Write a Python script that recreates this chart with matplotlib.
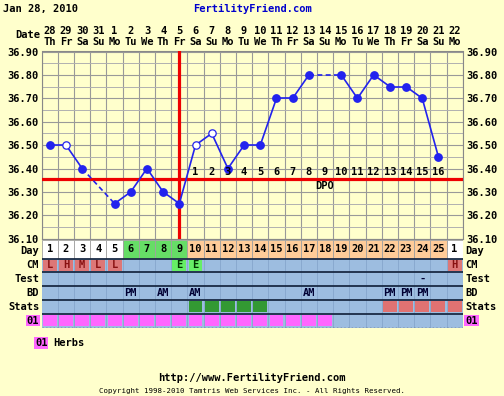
import numpy as np
import matplotlib.pyplot as plt
from matplotlib.patches import Rectangle

W, H = 504, 396
BG = '#ffffcc'
FONT = 'DejaVu Sans Mono'

# --- chart data ---
dates = ['28', '29', '30', '31', '1', '2', '3', '4', '5', '6', '7', '8', '9',
         '10', '11', '12', '13', '14', '15', '16', '17', '18', '19', '20', '21', '22']
weekdays = ['Th', 'Fr', 'Sa', 'Su', 'Mo', 'Tu', 'We', 'Th', 'Fr', 'Sa', 'Su', 'Mo', 'Tu',
            'We', 'Th', 'Fr', 'Sa', 'Su', 'Mo', 'Tu', 'We', 'Th', 'Fr', 'Sa', 'Su', 'Mo']
cycle_days = [str(d) for d in range(1, 26)] + ['1']
temps = [36.50, 36.50, 36.40, None, 36.25, 36.30, 36.40, 36.30, 36.25, 36.50,
         36.55, 36.40, 36.50, 36.50, 36.70, 36.70, 36.80, None, 36.80, 36.70,
         36.80, 36.75, 36.75, 36.70, 36.45, None]
open_days = [2, 10, 11]
ovulation_day = 9
coverline = 36.355
dpo_days = list(range(10, 26))
phase = ['pre'] * 5 + ['fertile'] * 4 + ['post'] * 16 + ['pre']
cm = {1: 'L', 2: 'H', 3: 'M', 4: 'L', 5: 'L', 9: 'E', 10: 'E', 26: 'H'}
tests = {24: '-'}
bd = {6: 'PM', 8: 'AM', 10: 'AM', 17: 'AM', 22: 'PM', 23: 'PM', 24: 'PM'}
stats_green = [10, 11, 12, 13, 14]
stats_red = [22, 23, 24, 25, 26]
herb_days = list(range(1, 19))
row_names = ['Day', 'CM', 'Test', 'BD', 'Stats', '01']

phase_colors = {'pre': '#ffffff', 'fertile': '#66dd66', 'post': '#ffcc99'}
BLUE = '#9dbde0'
LINE = '#2222ee'


def px_axes(fig, x0, y0, x1, y1):
    return fig.add_axes([x0 / W, 1 - y1 / H, (x1 - x0) / W, (y1 - y0) / H])


def ftext(fig, x, y, s, **kw):
    kw.setdefault('family', FONT)
    kw.setdefault('fontweight', 'bold')
    kw.setdefault('fontsize', 7.5)
    kw.setdefault('va', 'center')
    return fig.text(x / W, 1 - y / H, s, **kw)


def draw_temps(ax):
    x = np.arange(1, len(temps) + 1)
    valid = [i for i, t in enumerate(temps) if t is not None]
    for a, b in zip(valid[:-1], valid[1:]):
        ls = '-' if b == a + 1 else (0, (3, 2))
        ax.plot([x[a], x[b]], [temps[a], temps[b]], color=LINE, lw=1.2, ls=ls, zorder=4)
    for i in valid:
        if x[i] in open_days:
            ax.plot(x[i], temps[i], 'o', ms=5.3, mfc='white', mec=LINE, mew=0.9, zorder=5)
        else:
            ax.plot(x[i], temps[i], 'o', ms=5.3, color=LINE, zorder=5)


def draw_table(ax2, edges):
    n = len(cycle_days)
    for i, d in enumerate(cycle_days):
        ax2.add_patch(Rectangle((i + 0.5, 0), 1, edges[1], fc=phase_colors[phase[i]],
                                ec='#a0a0a0', lw=0.6))
        ax2.text(i + 1, edges[1] / 2, d, ha='center', va='center', family=FONT,
                 fontweight='bold', fontsize=7.5)
    ax2.add_patch(Rectangle((0.5, edges[1]), n, edges[-1] - edges[1], fc=BLUE, ec='none'))
    ax2.vlines(np.arange(1.5, n + 0.5), edges[1], edges[-1], color='#86a6cc', lw=0.6)
    ax2.hlines(edges[1:-1], 0.5, n + 0.5, color='#1a2a44', lw=1.3, zorder=3)
    ax2.hlines(edges[-1], 0.5, n + 0.5, color='#333333', lw=1.0, ls=':', zorder=3)

    px, py = 0.07, 0.1

    def cell(day, r, fc):
        ax2.add_patch(Rectangle((day - 0.5 + px, edges[r] + py), 1 - 2 * px,
                                edges[r + 1] - edges[r] - 2 * py, fc=fc, ec='none'))

    def ctext(day, r, s, color='#000033'):
        ax2.text(day, (edges[r] + edges[r + 1]) / 2, s, ha='center', va='center',
                 family=FONT, fontweight='bold', fontsize=7.5, color=color)

    for day, s in cm.items():
        if s == 'E':
            cell(day, 1, '#66ee66')
            ctext(day, 1, s, '#003300')
        else:
            cell(day, 1, '#dd7777')
            ctext(day, 1, s, '#881111')
    for day, s in tests.items():
        ctext(day, 2, s)
    for day, s in bd.items():
        ctext(day, 3, s)
    for day in stats_green:
        cell(day, 4, '#339933')
    for day in stats_red:
        cell(day, 4, '#e07272')
    for day in herb_days:
        cell(day, 5, '#ff66ff')


if __name__ == "__main__":
    fig = plt.figure(figsize=(W / 100, H / 100), dpi=100, facecolor=BG)

    # temperature panel
    ax = px_axes(fig, 41.7, 51.5, 462.7, 238.7)
    ax.set_facecolor(BG)
    ax.set_xlim(0.5, len(temps) + 0.5)
    ax.set_ylim(36.10, 36.90)
    yt = np.arange(36.10, 36.905, 0.10)
    ax.set_yticks(yt, [f'{t:.2f}' for t in yt])
    ax.set_yticks(np.arange(36.15, 36.90, 0.10), minor=True)
    ax.xaxis.tick_top()
    ax.set_xticks(np.arange(1, len(dates) + 1),
                  [f'{d}\n{w}' for d, w in zip(dates, weekdays)])
    ax.set_xticks(np.arange(0.5, len(dates) + 1), minor=True)
    ax.tick_params(which='both', length=0)
    ax.tick_params(axis='y', labelright=True, pad=2.5)
    ax.tick_params(axis='x', pad=3.5)
    for lab in ax.get_xticklabels() + ax.get_yticklabels():
        lab.set_family(FONT)
        lab.set_fontweight('bold')
        lab.set_fontsize(7.5)
    for lab in ax.get_xticklabels():
        lab.set_linespacing(1.05)
    ax.grid(False)
    ax.xaxis.grid(True, which='minor', color='#999999', lw=0.8)
    ax.yaxis.grid(True, which='major', color='#999999', lw=0.8)
    ax.yaxis.grid(True, which='minor', color='#b0b0b0', lw=0.7)
    for sp in ax.spines.values():
        sp.set_color('#888888')
        sp.set_linewidth(0.8)

    draw_temps(ax)
    ax.axvline(ovulation_day, color='#ee0000', lw=2.3, zorder=3)
    ax.axhline(coverline, color='#ee0000', lw=2.3, zorder=3)
    for k, d in enumerate(dpo_days, 1):
        ax.text(d, coverline + 0.032, str(k), ha='center', va='center', family=FONT,
                fontweight='bold', fontsize=7.5, zorder=6)
    ax.text(18, coverline - 0.03, 'DPO', ha='center', va='center', family=FONT,
            fontweight='bold', fontsize=7.5)

    # observation rows
    edges = [0, 1.35, 2.35, 3.35, 4.35, 5.35, 6.35]
    ax2 = px_axes(fig, 41.7, 240, 462.7, 327.5)
    ax2.set_xlim(0.5, len(cycle_days) + 0.5)
    ax2.set_ylim(edges[-1], 0)
    ax2.axis('off')
    draw_table(ax2, edges)
    tr = ax2.get_yaxis_transform()
    for r, name in enumerate(row_names):
        yc = (edges[r] + edges[r + 1]) / 2
        bbox = dict(fc='#ff66ff', ec='none', pad=0.6) if name == '01' else None
        for xa, ha in [(-0.006, 'right'), (1.006, 'left')]:
            ax2.text(xa, yc + (0.1 if r == 0 else 0), name, transform=tr, ha=ha, va='center',
                     family=FONT, fontweight='bold', fontsize=7.5, bbox=bbox)

    # header, legend and footer
    ftext(fig, 3, 9, 'Jan 28, 2010')
    ftext(fig, 252, 9, 'FertilityFriend.com', ha='center', color='#0000cc')
    ftext(fig, 40, 35, 'Date', ha='right')
    ftext(fig, 35, 343, '01', bbox=dict(fc='#ff66ff', ec='none', pad=0.6))
    ftext(fig, 53, 343, 'Herbs')
    ftext(fig, 252, 378, 'http://www.FertilityFriend.com', ha='center')
    ftext(fig, 252, 391, 'Copyright 1998-2010 Tamtris Web Services Inc. - All Rights Reserved.',
          ha='center', fontsize=5.3, fontweight='normal')

    fig.savefig('out.png', dpi=100, facecolor=BG)
